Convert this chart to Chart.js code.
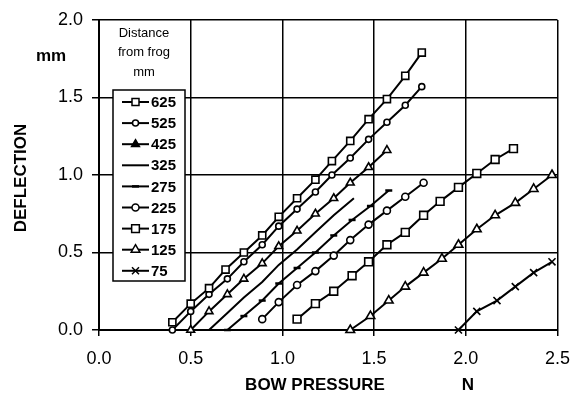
<!DOCTYPE html>
<html>
<head>
<meta charset="utf-8">
<script src="https://cdn.jsdelivr.net/npm/chart.js@4.4.1/dist/chart.umd.min.js"></script>
<style>
  html, body { margin: 0; padding: 0; background: #fff; }
  #wrap { width: 582px; height: 400px; }
</style>
</head>
<body>
<div id="wrap"><canvas id="chart" width="582" height="400"></canvas></div>
<script>
// tick labels / titles
const xTicks = [0, 0.5, 1.0, 1.5, 2.0, 2.5];
const yTicks = [0, 0.5, 1.0, 1.5, 2.0];
const xTitle = 'BOW PRESSURE';
const xUnit = 'N';
const yTitle = 'DEFLECTION';
const yUnit = 'mm';
const legendTitle = ['Distance', 'from frog', 'mm'];

// series (distance from frog, mm)
const seriesLabels = ['625', '525', '425', '325', '275', '225', '175', '125', '75'];

const x625 = [0.40, 0.50, 0.60, 0.69, 0.79, 0.89, 0.98, 1.08, 1.18, 1.27, 1.37, 1.47, 1.57, 1.67, 1.76];
const y625 = [0.05, 0.17, 0.27, 0.39, 0.50, 0.61, 0.73, 0.85, 0.97, 1.09, 1.22, 1.36, 1.49, 1.64, 1.79];

const x525 = [0.40, 0.50, 0.60, 0.70, 0.79, 0.89, 0.98, 1.08, 1.18, 1.27, 1.37, 1.47, 1.57, 1.67, 1.76];
const y525 = [0.00, 0.12, 0.23, 0.33, 0.44, 0.55, 0.67, 0.78, 0.89, 1.00, 1.11, 1.23, 1.34, 1.45, 1.57];

const x425 = [0.50, 0.60, 0.70, 0.79, 0.89, 0.98, 1.08, 1.18, 1.28, 1.37, 1.47, 1.57];
const y425 = [0.00, 0.12, 0.23, 0.33, 0.43, 0.54, 0.64, 0.75, 0.85, 0.95, 1.05, 1.16];

const x325 = [0.60, 0.70, 0.79, 0.89, 0.98, 1.08, 1.18, 1.28, 1.39];
const y325 = [0.00, 0.11, 0.21, 0.31, 0.42, 0.52, 0.63, 0.74, 0.85];

const x275 = [0.70, 0.79, 0.89, 0.98, 1.08, 1.18, 1.28, 1.38, 1.48, 1.58];
const y275 = [0.00, 0.09, 0.19, 0.30, 0.40, 0.50, 0.61, 0.71, 0.80, 0.90];

const x225 = [0.89, 0.98, 1.08, 1.18, 1.28, 1.37, 1.47, 1.57, 1.67, 1.77];
const y225 = [0.07, 0.18, 0.29, 0.38, 0.48, 0.58, 0.68, 0.77, 0.86, 0.95];

const x175 = [1.08, 1.18, 1.28, 1.38, 1.47, 1.57, 1.67, 1.77, 1.86, 1.96, 2.06, 2.16, 2.26];
const y175 = [0.07, 0.17, 0.25, 0.35, 0.44, 0.55, 0.63, 0.74, 0.83, 0.92, 1.01, 1.10, 1.17];

const x125 = [1.37, 1.48, 1.58, 1.67, 1.77, 1.87, 1.96, 2.06, 2.16, 2.27, 2.37, 2.47];
const y125 = [0.00, 0.09, 0.19, 0.28, 0.37, 0.46, 0.55, 0.65, 0.74, 0.82, 0.91, 1.00];

const x75 = [1.96, 2.06, 2.17, 2.27, 2.37, 2.47];
const y75 = [0.00, 0.12, 0.19, 0.28, 0.37, 0.44];

const FONT = '"Liberation Sans", Arial, Helvetica, sans-serif';

function pts(xs, ys) {
    return xs.map((x, i) => ({ x: x, y: ys[i] }));
}

// marker looks per series (legendFill only differs for 425)
const markers = [
    { style: 'rect',     radius: 5,   fill: '#fff' },
    { style: 'circle',   radius: 3,   fill: '#fff' },
    { style: 'triangle', radius: 4.5, fill: '#fff', legendFill: '#000' },
    { style: 'circle',   radius: 0,   fill: '#000' },
    { style: 'line',     radius: 3.5, fill: '#000' },
    { style: 'circle',   radius: 3.5, fill: '#fff' },
    { style: 'rect',     radius: 5.5, fill: '#fff' },
    { style: 'triangle', radius: 5,   fill: '#fff' },
    { style: 'crossRot', radius: 5,   fill: '#000' }
];

const seriesData = [
    pts(x625, y625), pts(x525, y525), pts(x425, y425),
    pts(x325, y325), pts(x275, y275), pts(x225, y225),
    pts(x175, y175), pts(x125, y125), pts(x75, y75)
];

const datasets = seriesLabels.map((lab, i) => ({
    label: lab,
    data: seriesData[i],
    showLine: true,
    borderColor: '#000',
    borderWidth: 2,
    pointStyle: markers[i].style,
    pointRadius: markers[i].radius,
    pointBackgroundColor: markers[i].fill,
    pointBorderColor: '#000',
    pointBorderWidth: markers[i].style === 'line' ? 2.5 : 1.6,
    pointHoverRadius: markers[i].radius,
    clip: false,
    tension: 0
}));

function drawMarker(ctx, m, x, y) {
    const r = m.radius;
    if (!r) return;
    ctx.save();
    ctx.fillStyle = m.legendFill || m.fill;
    ctx.strokeStyle = '#000';
    ctx.lineWidth = 1.5;
    ctx.beginPath();
    if (m.style === 'rect') {
        const s = r * 1.4;
        ctx.rect(x - s / 2, y - s / 2, s, s);
        ctx.fill(); ctx.stroke();
    } else if (m.style === 'circle') {
        ctx.arc(x, y, r, 0, Math.PI * 2);
        ctx.fill(); ctx.stroke();
    } else if (m.style === 'triangle') {
        ctx.moveTo(x, y - r);
        ctx.lineTo(x + r * 0.87, y + r * 0.5);
        ctx.lineTo(x - r * 0.87, y + r * 0.5);
        ctx.closePath();
        ctx.fill(); ctx.stroke();
    } else if (m.style === 'line') {
        ctx.moveTo(x - r, y); ctx.lineTo(x + r, y);
        ctx.lineWidth = 2.5;
        ctx.stroke();
    } else if (m.style === 'crossRot') {
        const d = r * 0.7;
        ctx.moveTo(x - d, y - d); ctx.lineTo(x + d, y + d);
        ctx.moveTo(x + d, y - d); ctx.lineTo(x - d, y + d);
        ctx.stroke();
    }
    ctx.restore();
}

// titles, units and the boxed legend
const overlay = {
    id: 'overlay',
    afterDraw(chart) {
        const ctx = chart.ctx;
        ctx.save();
        ctx.fillStyle = '#000';
        ctx.textAlign = 'center';
        ctx.textBaseline = 'middle';

        ctx.font = 'bold 17px ' + FONT;
        ctx.fillText(xTitle, 315, 385);
        ctx.fillText(xUnit, 468, 385);
        ctx.fillText(yUnit, 51, 56);
        ctx.save();
        ctx.translate(21, 178);
        ctx.rotate(-Math.PI / 2);
        ctx.fillText(yTitle, 0, 0);
        ctx.restore();

        ctx.font = '13px ' + FONT;
        legendTitle.forEach((t, i) => ctx.fillText(t, 144, 33 + i * 19.5));

        // legend box
        const bx = 113, by = 90, bw = 72, bh = 191;
        ctx.fillStyle = '#fff';
        ctx.fillRect(bx, by, bw, bh);
        ctx.strokeStyle = '#000';
        ctx.lineWidth = 1.5;
        ctx.strokeRect(bx, by, bw, bh);

        ctx.font = 'bold 15px ' + FONT;
        ctx.textAlign = 'left';
        seriesLabels.forEach((lab, i) => {
            const y = 102 + i * 21.1;
            ctx.strokeStyle = '#000';
            ctx.lineWidth = 2;
            ctx.beginPath();
            ctx.moveTo(122, y);
            ctx.lineTo(149, y);
            ctx.stroke();
            drawMarker(ctx, markers[i], 135.5, y);
            ctx.fillStyle = '#000';
            ctx.fillText(lab, 151, y + 1);
        });
        ctx.restore();
    }
};

new Chart(document.getElementById('chart'), {
    type: 'scatter',
    data: { datasets: datasets },
    options: {
        responsive: false,
        animation: false,
        events: [],
        layout: { padding: { left: 0, top: 20, right: 22, bottom: 0 } },
        plugins: {
            legend: { display: false },
            tooltip: { enabled: false }
        },
        scales: {
            x: {
                type: 'linear',
                min: xTicks[0],
                max: xTicks[xTicks.length - 1],
                afterBuildTicks: (s) => { s.ticks = xTicks.map(v => ({ value: v })); },
                afterFit: (s) => { s.height = 70; },
                ticks: {
                    color: '#000',
                    font: { family: FONT, size: 18 },
                    padding: 12,
                    maxRotation: 0,
                    callback: (v) => Number(v).toFixed(1)
                },
                grid: { color: '#000', lineWidth: 1.5, tickLength: 6, drawTicks: true },
                border: { color: '#000', width: 2 }
            },
            y: {
                type: 'linear',
                min: yTicks[0],
                max: yTicks[yTicks.length - 1],
                afterBuildTicks: (s) => { s.ticks = yTicks.map(v => ({ value: v })); },
                afterFit: (s) => { s.width = 99; },
                ticks: {
                    color: '#000',
                    font: { family: FONT, size: 18 },
                    padding: 9,
                    callback: (v) => Number(v).toFixed(1)
                },
                grid: { color: '#000', lineWidth: 1.5, tickLength: 7, drawTicks: true },
                border: { color: '#000', width: 2 }
            }
        }
    },
    plugins: [overlay]
});
</script>
</body>
</html>
